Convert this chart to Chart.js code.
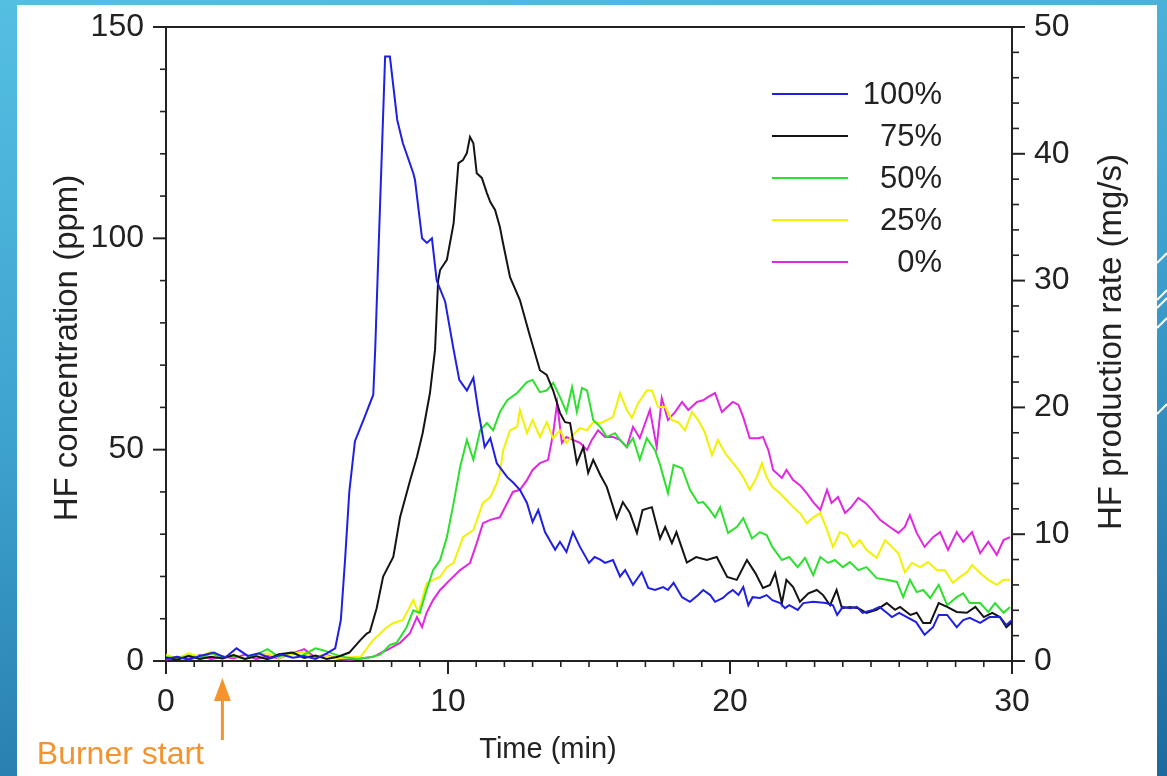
<!DOCTYPE html>
<html>
<head>
<meta charset="utf-8">
<title>HF concentration</title>
<script src="https://cdn.jsdelivr.net/npm/chart.js@4"></script>
<style>
  html, body { margin: 0; padding: 0; }
  body {
    width: 1167px; height: 776px; overflow: hidden; position: relative;
    background: linear-gradient(170deg, #55bfe2 0%, #3ea2cf 45%, #1c6b9f 100%);
  }
  #panel { position: absolute; left: 17px; top: 5px; width: 1140px; height: 771px; background: #fff; }
  #chart { position: absolute; left: 0; top: 0; }
  #deco { position: absolute; left: 0; top: 0; pointer-events: none; }
</style>
</head>
<body>
<div id="panel"><canvas id="chart" width="1140" height="771"></canvas></div>
<svg id="deco" width="1167" height="776">
  <g stroke="#fff" stroke-width="2">
    <line x1="1157" y1="263" x2="1167" y2="253"/>
    <line x1="1157" y1="300" x2="1167" y2="290"/>
    <line x1="1157" y1="308" x2="1167" y2="298"/>
    <line x1="1157" y1="328" x2="1167" y2="318"/>
    <line x1="1157" y1="414" x2="1167" y2="404"/>
  </g>
</svg>
<script>
// Legend labels (top to bottom) and colours
const labels = ["100%", "75%", "50%", "25%", "0%"];
const colors = ["#2020e0", "#141414", "#2ee02e", "#f2f200", "#e028e0"];

// Time (min) / HF concentration (ppm)
const blueT = [0,0.4,0.8,1.2,1.7,2.1,2.5,2.9,3.3,3.7,4.1,4.5,4.9,5.3,5.7,6.0,6.2,6.35,6.5,6.7,7.0,7.35,7.42,7.5,7.77,7.94,8.2,8.4,8.77,8.83,9.08,9.25,9.43,9.6,9.9,10.2,10.4,10.67,10.9,11.07,11.3,11.5,11.73,12.1,12.3,12.55,12.8,13.0,13.2,13.44,13.8,13.97,14.2,14.43,14.68,15.0,15.2,15.4,15.57,15.85,16.1,16.28,16.56,16.87,17.1,17.34,17.63,17.8,18.0,18.3,18.58,18.87,19.05,19.3,19.47,19.75,19.93,20.1,20.3,20.47,20.65,20.8,21.06,21.3,21.5,21.78,21.95,22.1,22.4,22.6,22.95,23.4,23.65,23.8,24.0,24.25,24.5,24.7,25.07,25.3,25.56,25.74,26.0,26.27,26.6,26.9,27.2,27.4,27.7,28.04,28.27,28.5,28.87,29.2,29.57,29.8,30];
const blueV = [0.5,1,0.3,1.2,2,0.8,3,1.2,1.8,0.6,1.5,0.8,1.2,0.5,1.8,3,9.7,24,40,52,57,63,74,90,143,143,128,122.5,115.4,113.8,100,98.9,100,90,85,73.6,66.5,64,67,59.4,50.6,52.7,46.8,43.5,42.3,40.5,37.4,32.9,35.7,30.5,26.3,28.2,25.8,30.5,27,23.2,24.6,24,23.2,23.9,20,21.5,18,21,17.3,16.8,17.5,16.8,18.5,15.1,14,15.6,16.8,15.6,14,14.9,16,16.8,15.6,17.5,13.2,15.1,14.9,15.6,14.4,13.7,12.5,13.2,12.1,13.7,14,13.7,13.2,10.9,12.8,12.5,12.8,11.4,12.1,12.8,11.4,10.4,11.4,10.4,9.2,6.2,8,10.9,10.9,8,9.7,10.2,9,10.4,10.4,8.5,9.7];

const blackT = [0,0.4,0.8,1.2,1.6,2.0,2.4,2.8,3.2,3.6,4.0,4.5,4.9,5.3,5.7,6.1,6.5,6.9,7.12,7.23,7.47,7.7,8.06,8.3,8.66,8.9,9.1,9.36,9.54,9.65,9.72,9.96,10.2,10.37,10.53,10.67,10.78,10.9,11.02,11.2,11.38,11.5,11.67,11.84,11.95,12.2,12.55,12.9,13.26,13.5,13.73,13.97,14.15,14.33,14.57,14.8,14.97,15.15,15.4,15.63,15.98,16.2,16.45,16.7,16.9,17.23,17.52,17.7,17.94,18.1,18.47,18.8,19.18,19.53,19.9,20.24,20.6,20.9,21.17,21.42,21.6,21.84,22.0,22.24,22.48,22.78,23.08,23.3,23.55,23.78,23.97,24.25,24.55,24.84,25.2,25.56,25.85,26.03,26.4,26.62,26.85,27.1,27.4,27.7,28.04,28.4,28.7,29.0,29.3,29.57,29.8,30];
const blackV = [0.8,0.3,1.2,0.5,1,0.6,1.4,0.5,1.1,0.4,1.6,2,0.7,1.3,0.5,1,2,5,6.5,6.9,12.5,20,24.6,34,42.8,48.3,53.9,63.4,73.6,90,92.5,94.9,103.6,117.8,118.5,120.2,124,122.5,115.4,114.3,110.7,108.6,106.7,102.7,98.9,90.8,85.4,77,68.8,67.7,64,58.7,56.5,56.3,46.8,50.6,44.5,47.6,44,41.2,33.8,37.6,35,30.3,35.7,36.4,29,31.7,27.9,30.5,23.3,24.6,23.9,24.6,19.9,19.2,23.9,20.8,17.3,18,20.8,13.7,19.2,17.5,14,16,16.8,15.6,13.2,16.8,12.5,12.8,12.5,11.4,12.1,13.7,12.1,12.8,10.9,11.4,9,9,13.7,12.8,11.6,11.4,12.8,10.4,11.4,10.4,8,9.2];

const greenT = [0,0.4,0.8,1.2,1.6,2.0,2.4,2.8,3.2,3.6,4.0,4.4,4.8,5.3,5.6,6.0,6.4,6.8,7.2,7.6,7.94,8.18,8.53,8.77,9.0,9.24,9.47,9.72,9.96,10.2,10.43,10.67,10.9,11.14,11.38,11.6,11.84,12.1,12.45,12.8,13.0,13.26,13.5,13.73,13.97,14.2,14.4,14.57,14.75,14.93,15.15,15.4,15.63,15.92,16.1,16.34,16.56,16.8,17.05,17.34,17.52,17.8,18.0,18.3,18.58,18.87,19.05,19.23,19.47,19.65,19.93,20.24,20.47,20.78,21.06,21.3,21.5,21.84,22.1,22.4,22.66,22.95,23.2,23.48,23.72,24.0,24.25,24.55,24.84,25.2,25.56,25.92,26.14,26.38,26.62,26.85,27.1,27.4,27.7,28.04,28.27,28.5,28.87,29.16,29.4,29.7,29.93];
const greenV = [1,0.4,1.3,0.6,1.8,0.8,1.2,0.5,1.5,2.8,1,2,1.2,3,2.5,1.5,0.8,0.5,0.8,1.5,3.8,4.3,8,12,11.4,16.8,21.5,23.9,29.3,37.4,45.9,52.3,47.6,54.6,56.3,54.6,58.9,61.7,63.4,66,66.5,63.6,64,65.8,62.5,58.9,64.8,58.9,64.6,64,57,55.4,53,53.9,52.3,50.6,52.7,47.6,52.7,49.9,46.4,39.7,46.4,45.6,40.5,37.4,37.6,36.2,34,36.4,30.3,31.7,33.8,29,30.5,29.8,27,23.9,24.6,22.2,24.4,20.3,24.6,23.2,23.9,22.2,23.4,21.5,22.2,19.6,19.2,18.7,15.1,19.2,16.3,16.8,14.9,18,13.2,15.1,16,13.7,13.7,11.6,13.7,11.4,12.8];

const yellowT = [0,0.4,0.8,1.2,1.6,2.0,2.4,2.8,3.2,3.6,4.0,4.4,4.8,5.2,5.6,6.0,6.4,6.9,7.35,7.83,8.06,8.4,8.77,8.95,9.24,9.47,9.72,9.96,10.2,10.53,10.9,11.24,11.5,11.73,11.84,11.96,12.2,12.45,12.55,12.8,13.0,13.26,13.5,13.73,13.97,14.2,14.43,14.68,14.93,15.15,15.4,15.63,15.85,16.1,16.34,16.52,16.74,17.05,17.23,17.45,17.7,17.94,18.16,18.4,18.65,18.87,19.1,19.36,19.57,19.82,20.07,20.3,20.47,20.7,20.95,21.13,21.3,21.5,21.77,22.0,22.24,22.48,22.72,22.95,23.2,23.44,23.65,23.9,24.14,24.37,24.6,24.84,25.2,25.5,25.74,25.97,26.2,26.45,26.74,27.02,27.34,27.62,27.9,28.16,28.4,28.58,28.87,29.16,29.46,29.7,29.93];
const yellowV = [1.5,0.6,1.8,1,2.2,0.8,1.5,0.5,1.2,1.8,0.7,1.5,2.2,1,1.4,0.6,0.8,1,5,8,9,9.7,14.4,11.4,18.4,19.2,19.9,22.2,23.2,29.3,31,37.4,38.8,42.1,44.5,49.9,54.6,55.4,59.4,53.9,57,53,56.5,52.7,54.6,51.6,53.5,55.1,54.6,56.5,56.3,57,57.7,63.4,59.4,57.5,61,64,64,60.1,60.1,57,56.5,54.6,58.9,57,54.2,48.7,52.3,49.2,47.1,45.2,43.5,40.5,43.5,46.8,43.5,41.2,39.7,38.1,36.4,35,32.6,34,35,31,27,30.5,29.8,27,28.6,26.3,24.4,28.6,27,25.5,21,23.2,22.2,23.4,21.5,21.5,18.5,19.9,21,22.7,20.8,19.2,18,19.2,19.2];

const magentaT = [0,0.4,0.8,1.2,1.6,2.0,2.4,2.8,3.2,3.6,4.0,4.4,4.9,5.3,5.7,6.1,6.5,6.9,7.35,7.83,8.3,8.65,8.9,9.08,9.24,9.47,9.72,10.07,10.43,10.78,11.02,11.24,11.5,11.84,12.1,12.3,12.55,12.8,13.0,13.26,13.55,13.73,13.87,14.04,14.2,14.43,14.68,14.93,15.1,15.32,15.57,15.86,16.1,16.34,16.56,16.8,17.16,17.4,17.58,17.8,18.05,18.3,18.52,18.83,19.05,19.23,19.47,19.71,19.9,20.1,20.3,20.47,20.7,21.0,21.17,21.36,21.53,21.84,22.0,22.24,22.48,22.72,22.95,23.2,23.44,23.6,23.83,24.08,24.3,24.55,24.8,25.04,25.32,25.67,25.97,26.2,26.38,26.62,26.9,27.2,27.45,27.73,28.04,28.27,28.58,28.87,29.16,29.46,29.7,29.93];
const magentaV = [0.3,1,0.5,1.4,0.4,1.1,0.6,1.5,0.4,1.2,0.6,1.6,2.8,0.8,1.4,0.5,0.3,0.6,1,2.6,4.3,6.6,10.4,8,11.4,14.4,16.8,19.2,21.5,23.2,27.9,32.6,33.4,34,37.4,40,40.5,42.8,45.2,46.8,47.6,53.9,61,51.6,53,52.3,51.6,49.9,52.3,54.6,53,53,52.3,50.6,55.4,52.7,59.4,50.6,62.2,57,58.9,61.3,59.4,61.3,61.7,62.5,63.4,58.9,60.1,61.3,60.6,57.7,52.7,52.7,53,49.9,45.2,43.3,45.2,42.8,41.6,39.7,37.6,35.7,40.5,37.4,38.8,35,36.4,38.6,37.4,35.7,33.4,31.7,30.3,31.7,34.5,30.3,27,29.3,30.5,26.3,30.5,28.2,30.5,25.5,28.2,25.1,28.6,29.3];

const seriesT = [blueT, blackT, greenT, yellowT, magentaT];
const seriesV = [blueV, blackV, greenV, yellowV, magentaV];

const AXIS = "#222";
const FONT = '"Liberation Sans", Arial, sans-serif';

function pairs(ts, vs) {
  return ts.map((t, i) => ({ x: t, y: vs[i] }));
}

// fixed box sizes so the plot area lands where the figure has it
function fixVertical(width) {
  return s => { s.width = width; s.paddingTop = 0; s.paddingBottom = 0; };
}

// frame top, minor/major ticks, titles, legend, burner arrow
const decor = {
  id: 'decor',
  afterDraw(chart) {
    const ctx = chart.ctx;
    const a = chart.chartArea;
    const sx = chart.scales.x, sy = chart.scales.y, sy2 = chart.scales.y2;
    ctx.save();
    ctx.strokeStyle = AXIS;
    ctx.lineWidth = 2;
    ctx.beginPath();
    ctx.moveTo(a.left - 1, a.top);
    ctx.lineTo(a.right + 1, a.top);
    ctx.stroke();

    function seg(x1, y1, x2, y2, w) {
      ctx.lineWidth = w;
      ctx.beginPath(); ctx.moveTo(x1, y1); ctx.lineTo(x2, y2); ctx.stroke();
    }
    sx.ticks.forEach(t => {
      const p = sx.getPixelForValue(t.value);
      const major = t.value % 10 === 0;
      seg(p, a.bottom, p, a.bottom + (major ? 13 : 6), major ? 2 : 1.6);
    });
    sy.ticks.forEach(t => {
      const p = sy.getPixelForValue(t.value);
      const major = t.value % 50 === 0;
      seg(a.left, p, a.left - (major ? 13 : 6), p, major ? 2 : 1.6);
    });
    sy2.ticks.forEach(t => {
      const p = sy2.getPixelForValue(t.value);
      const major = t.value % 10 === 0;
      seg(a.right, p, a.right + (major ? 13 : 7), p, major ? 2 : 1.6);
    });

    // axis titles
    ctx.fillStyle = AXIS;
    ctx.font = '33px ' + FONT;
    ctx.textAlign = 'center';
    ctx.textBaseline = 'middle';
    const midY = (a.top + a.bottom) / 2;
    ctx.save();
    ctx.translate(a.left - 98, midY + 4);
    ctx.rotate(-Math.PI / 2);
    ctx.fillText('HF concentration (ppm)', 0, 0);
    ctx.restore();
    ctx.save();
    ctx.translate(a.right + 100, midY - 2);
    ctx.rotate(-Math.PI / 2);
    ctx.fillText('HF production rate (mg/s)', 0, 0);
    ctx.restore();
    ctx.font = '29px ' + FONT;
    ctx.fillText('Time (min)', a.left + 382, a.bottom + 89);

    // legend
    ctx.font = '31px ' + FONT;
    ctx.textAlign = 'right';
    labels.forEach((lab, i) => {
      const y = a.top + 67 + i * 42;
      ctx.strokeStyle = colors[i];
      seg(a.right - 240, y, a.right - 164, y, 2);
      ctx.fillStyle = AXIS;
      ctx.fillText(lab, a.right - 70, y + 1);
    });

    // burner start marker at t = 2 min
    const bx = sx.getPixelForValue(2);
    const orange = '#f39430';
    ctx.strokeStyle = orange;
    ctx.fillStyle = orange;
    seg(bx, a.bottom + 36, bx, a.bottom + 79, 3);
    ctx.beginPath();
    ctx.moveTo(bx, a.bottom + 17);
    ctx.lineTo(bx - 8.5, a.bottom + 40);
    ctx.lineTo(bx + 8.5, a.bottom + 40);
    ctx.closePath();
    ctx.fill();
    ctx.font = '32px ' + FONT;
    ctx.textAlign = 'center';
    ctx.fillText('Burner start', bx - 102, a.bottom + 94);
    ctx.restore();
  }
};

const tickFont = { family: FONT, size: 32 };

new Chart(document.getElementById('chart'), {
  type: 'line',
  data: {
    datasets: labels.map((lab, i) => ({
      label: lab,
      data: pairs(seriesT[i], seriesV[i]),
      borderColor: colors[i],
      backgroundColor: colors[i],
      borderWidth: 2,
      pointRadius: 0,
      tension: 0,
      fill: false,
      yAxisID: 'y'
    }))
  },
  options: {
    responsive: false,
    animation: false,
    layout: { padding: { top: 22, left: 0, right: 0, bottom: 0 } },
    plugins: { legend: { display: false }, tooltip: { enabled: false } },
    scales: {
      x: {
        type: 'linear', position: 'bottom', min: 0, max: 30,
        grid: { display: false, drawTicks: false },
        border: { display: true, color: AXIS, width: 2 },
        ticks: {
          stepSize: 1, autoSkip: false, maxRotation: 0, padding: 22,
          font: tickFont, color: AXIS,
          callback: v => (v % 10 === 0 ? v : '')
        },
        afterFit: s => { s.height = 115; }
      },
      y: {
        type: 'linear', position: 'left', min: 0, max: 150,
        grid: { display: false, drawTicks: false },
        border: { display: true, color: AXIS, width: 2 },
        ticks: {
          stepSize: 10, autoSkip: false, padding: 22,
          font: tickFont, color: AXIS,
          callback: v => (v % 50 === 0 ? v : '')
        },
        afterFit: fixVertical(149)
      },
      y2: {
        type: 'linear', position: 'right', min: 0, max: 50, display: true,
        grid: { display: false, drawTicks: false },
        border: { display: true, color: AXIS, width: 2 },
        ticks: {
          stepSize: 2, autoSkip: false, padding: 22,
          font: tickFont, color: AXIS,
          callback: v => (v % 10 === 0 ? v : '')
        },
        afterFit: fixVertical(145)
      }
    }
  },
  plugins: [decor]
});
</script>
</body>
</html>
